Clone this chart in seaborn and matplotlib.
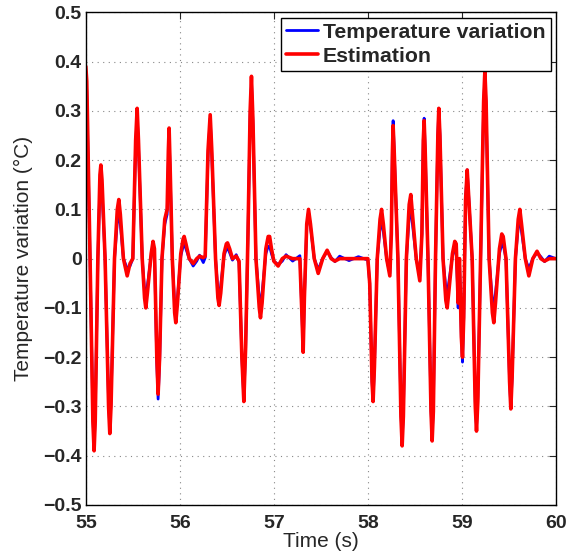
import matplotlib
matplotlib.use("Agg")
import matplotlib.pyplot as plt
import seaborn as sns
import pandas as pd

# key points (time in s, value in degC)
time = [
    55.000, 55.010, 55.045, 55.075, 55.088, 55.100, 55.128,
    55.150, 55.160, 55.172, 55.205, 55.242, 55.255, 55.268, 55.305,
    55.335, 55.351, 55.367, 55.400, 55.440, 55.470, 55.500,
    55.530, 55.546, 55.560, 55.600, 55.625, 55.638, 55.655,
    55.695, 55.715, 55.730, 55.755, 55.769, 55.785, 55.810,
    55.840, 55.865, 55.878, 55.886, 55.895, 55.920, 55.945, 55.957, 55.975,
    56.010, 56.035, 56.046, 56.065, 56.100, 56.142, 56.180, 56.210, 56.250, 56.270,
    56.300, 56.323, 56.340, 56.380, 56.405, 56.418, 56.435, 56.470, 56.495, 56.507, 56.530, 56.560, 56.600, 56.630,
    56.660, 56.681, 56.700, 56.725, 56.748, 56.762, 56.778, 56.810, 56.845, 56.858, 56.875,
    56.915, 56.940, 56.955, 56.975, 57.000, 57.046, 57.090, 57.130, 57.200, 57.277,
    57.300, 57.312, 57.325, 57.350, 57.369, 57.390, 57.430, 57.472, 57.520, 57.567, 57.610, 57.650, 57.700, 57.800, 57.900, 58.000,
    58.020, 58.045, 58.056, 58.070, 58.100, 58.130, 58.146, 58.165, 58.200, 58.234,
    58.250, 58.262, 58.269, 58.280, 58.320, 58.352, 58.365, 58.378, 58.410,
    58.440, 58.457, 58.475, 58.515, 58.553, 58.575, 58.590, 58.599, 58.610, 58.640,
    58.672, 58.684, 58.697, 58.720, 58.745, 58.755, 58.767, 58.800, 58.830, 58.844, 58.860,
    58.900, 58.925, 58.940, 58.955, 58.961, 58.968, 58.975, 58.995, 59.007, 59.020,
    59.040, 59.057, 59.075, 59.110, 59.143, 59.156, 59.170, 59.200, 59.232, 59.245, 59.258, 59.290,
    59.325, 59.340, 59.358, 59.400, 59.425, 59.440, 59.470, 59.508, 59.521, 59.535, 59.570,
    59.600, 59.617, 59.635, 59.675, 59.713, 59.755, 59.800, 59.840, 59.880, 59.930, 60.000,
]

estimation = [
    0.39, 0.36, 0.0, -0.33, -0.39, -0.33, 0.0,
    0.17, 0.19, 0.16, 0.0, -0.30, -0.355, -0.30, 0.0,
    0.10, 0.12, 0.09, 0.0, -0.035, -0.01, 0.0,
    0.24, 0.305, 0.24, 0.0, -0.08, -0.10, -0.07,
    0.01, 0.035, 0.02, -0.2, -0.275, -0.2, 0.0,
    0.08, 0.10, 0.22, 0.265, 0.2, 0.0, -0.11, -0.13, -0.09,
    0.01, 0.04, 0.045, 0.03, 0.0, -0.01, 0.0, 0.005, 0.002, 0.005,
    0.22, 0.292, 0.22, 0.0, -0.08, -0.095, -0.07, 0.01, 0.03, 0.032, 0.02, 0.0, 0.005, -0.005,
    -0.2, -0.29, -0.18, 0.05, 0.3, 0.37, 0.28, 0.0, -0.1, -0.12, -0.09,
    0.02, 0.045, 0.045, 0.02, -0.005, -0.015, 0.0, 0.005, 0.0, 0.0,
    -0.12, -0.19, -0.08, 0.07, 0.10, 0.07, 0.0, -0.03, 0.0, 0.017, 0.0, -0.005, 0.0, 0.0, 0.0, 0.0,
    -0.05, -0.25, -0.29, -0.22, 0.0, 0.08, 0.10, 0.07, 0.0, -0.035,
    0.05, 0.22, 0.27, 0.22, 0.0, -0.32, -0.38, -0.32, 0.0,
    0.11, 0.13, 0.09, 0.0, -0.045, 0.05, 0.24, 0.28, 0.22, 0.0,
    -0.31, -0.37, -0.31, 0.0, 0.25, 0.305, 0.25, 0.0, -0.085, -0.10, -0.07,
    0.01, 0.035, 0.03, -0.06, -0.09, -0.02, 0.0, -0.16, -0.20, -0.12,
    0.12, 0.18, 0.12, 0.0, -0.30, -0.35, -0.29, 0.0, 0.32, 0.38, 0.32, 0.0,
    -0.11, -0.13, -0.09, 0.02, 0.05, 0.045, 0.0, -0.25, -0.305, -0.24, 0.0,
    0.08, 0.10, 0.07, 0.0, -0.035, 0.0, 0.015, 0.0, -0.005, 0.0, 0.0,
]

temp_var = [
    0.37, 0.34, 0.0, -0.32, -0.38, -0.32, 0.0,
    0.15, 0.17, 0.14, 0.0, -0.29, -0.345, -0.29, 0.0,
    0.075, 0.09, 0.07, 0.0, -0.02, -0.015, 0.0,
    0.23, 0.29, 0.23, 0.0, -0.065, -0.08, -0.055,
    0.005, 0.03, 0.015, -0.21, -0.285, -0.21, 0.0,
    0.07, 0.09, 0.2, 0.25, 0.19, 0.0, -0.095, -0.11, -0.08,
    0.005, 0.025, 0.03, 0.02, 0.0, -0.015, -0.005, 0.007, -0.008, 0.002,
    0.21, 0.285, 0.21, 0.0, -0.065, -0.075, -0.055, 0.005, 0.02, 0.022, 0.012, -0.003, 0.008, -0.008,
    -0.2, -0.285, -0.18, 0.05, 0.29, 0.36, 0.27, 0.0, -0.08, -0.095, -0.07,
    0.01, 0.025, 0.025, 0.01, -0.005, -0.012, -0.005, 0.008, -0.005, 0.006,
    -0.12, -0.185, -0.08, 0.065, 0.095, 0.065, 0.0, -0.022, 0.0, 0.015, 0.002, -0.006, 0.005, -0.004, 0.004, -0.003,
    -0.05, -0.25, -0.285, -0.22, 0.0, 0.06, 0.075, 0.055, 0.0, -0.03,
    0.06, 0.23, 0.28, 0.22, 0.0, -0.31, -0.37, -0.31, 0.0,
    0.085, 0.10, 0.07, 0.0, -0.035, 0.05, 0.24, 0.285, 0.22, 0.0,
    -0.305, -0.36, -0.30, 0.0, 0.25, 0.305, 0.25, 0.0, -0.06, -0.075, -0.05,
    0.005, 0.02, 0.015, -0.06, -0.1, -0.02, 0.0, -0.16, -0.21, -0.12,
    0.12, 0.18, 0.12, 0.0, -0.29, -0.345, -0.28, 0.0, 0.31, 0.37, 0.31, 0.0,
    -0.085, -0.10, -0.07, 0.01, 0.03, 0.028, 0.0, -0.25, -0.30, -0.24, 0.0,
    0.065, 0.08, 0.055, 0.0, -0.02, 0.0, 0.012, 0.004, -0.006, 0.005, 0.0,
]

x_ticks = [55, 56, 57, 58, 59, 60]
y_ticks = [-0.5, -0.4, -0.3, -0.2, -0.1, 0, 0.1, 0.2, 0.3, 0.4, 0.5]
y_labels = ["\u22120.5", "\u22120.4", "\u22120.3", "\u22120.2", "\u22120.1", "0",
            "0.1", "0.2", "0.3", "0.4", "0.5"]

df = pd.DataFrame({"time": time, "temp": temp_var, "est": estimation})

sns.set_style("white")
plt.rcParams["font.family"] = ["Liberation Sans", "DejaVu Sans"]

fig = plt.figure(figsize=(5.76, 5.58), dpi=100)
ax = fig.add_axes([0.149, 0.095, 0.816, 0.883])

sns.lineplot(data=df, x="time", y="temp", color="blue", linewidth=2.0,
             label="Temperature variation", estimator=None, sort=False, ax=ax)
sns.lineplot(data=df, x="time", y="est", color="red", linewidth=2.6,
             label="Estimation", estimator=None, sort=False, ax=ax)

ax.set_xlim(55, 60)
ax.set_ylim(-0.5, 0.5)
ax.set_xticks(x_ticks)
ax.set_xticklabels([str(v) for v in x_ticks])
ax.set_yticks(y_ticks)
ax.set_yticklabels(y_labels)

# matlab style dotted grid
ax.grid(True, linestyle=(0, (1, 4)), color="#888888", linewidth=0.8)
for s in ax.spines.values():
    s.set_color("black")
    s.set_linewidth(1.0)

ax.tick_params(direction="in", length=5, width=0.8, top=True, right=True,
               labelsize=14)
ax.tick_params(axis="x", pad=7)
ax.tick_params(axis="y", pad=3)
for lab in ax.get_xticklabels() + ax.get_yticklabels():
    lab.set_fontweight("bold")

ax.set_xlabel("Time (s)", fontsize=15, labelpad=0)
ax.set_ylabel("Temperature variation (\u00b0C)", fontsize=15)
ax.yaxis.set_label_coords(-0.112, 0.5)

leg = ax.legend(loc="upper right", fancybox=False, framealpha=1,
                edgecolor="black", prop={"weight": "bold", "size": 15.3},
                borderpad=0.25, labelspacing=0.22, handlelength=1.5,
                handletextpad=0.2, borderaxespad=0.25)
leg.get_frame().set_linewidth(1.0)

fig.savefig("out.png", dpi=100)
